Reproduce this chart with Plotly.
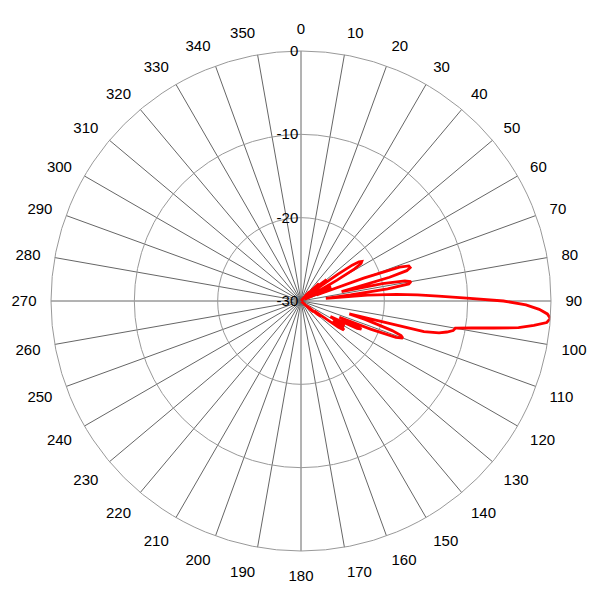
import plotly.graph_objects as go

# Pattern angles (degrees, clockwise from top) and gain values (dB)
angles = [40, 41, 42, 43, 44, 45, 46, 47, 48, 49,
          50, 51, 52, 53, 54, 55, 56, 57, 58, 59,
          60, 61, 62, 63, 64, 65, 66, 67, 68, 69,
          70, 71, 72, 73, 74, 75, 76, 77, 78, 79,
          80, 81, 82, 83, 84, 85, 86, 87, 88, 89,
          90, 91, 92, 93, 94, 95, 96, 97, 98, 99,
          100, 101, 102, 103, 104, 105, 106, 107, 108, 109,
          110, 111, 112, 113, 114, 115, 116, 117, 118, 119,
          120, 121, 122, 123, 124, 125, 126, 127, 128, 129,
          130, 131, 132, 133, 134, 135]
gain_db = [-30, -29, -28.5, -29, -30, -28, -27, -27.5, -29, -27,
           -26, -26.5, -29, -27, -24.5, -22.5, -21.6, -21.3, -21.5, -22.5,
           -25, -29, -27, -26, -27, -29.5, -28, -26, -27.5, -28,
           -22, -17.5, -16.4, -16.3, -16.8, -19, -23, -25, -20, -17.3,
           -16.6, -16.9, -19.5, -24, -27, -22, -18.5, -16, -13.5, -10.1,
           -5.7, -3.0, -1.4, -0.4, 0, -0.4, -1.9, -3.7, -6.7, -9.3,
           -11.2, -11.4, -12.1, -13.0, -14.8, -24, -22, -20.5, -18.5, -17.3,
           -17.0, -17.8, -21, -25, -23, -22, -22.5, -25, -26, -24.5,
           -24, -24.3, -25.5, -24, -23.8, -24.5, -27, -28, -27, -27.5,
           -29, -28, -28.5, -30, -30, -30]

angle_ticks = list(range(0, 360, 10))
angle_labels = [str(a) for a in angle_ticks]
radial_ticks = [-30, -20, -10, 0]
radial_labels = ["-30", "-20", "-10", "0"]

fig = go.Figure()
fig.add_trace(go.Scatterpolar(
    r=gain_db, theta=angles, mode="lines",
    line=dict(color="#ff0000", width=2.8),
    showlegend=False, hoverinfo="skip"))

fig.update_layout(
    width=600, height=600,
    margin=dict(l=43, r=57, t=43, b=57, autoexpand=False),
    paper_bgcolor="white",
    font=dict(family="Liberation Sans, Arial, sans-serif", size=15, color="black"),
    polar=dict(
        bgcolor="white",
        domain=dict(x=[0, 1], y=[0, 1]),
        angularaxis=dict(
            direction="clockwise", rotation=90,
            tickmode="array", tickvals=angle_ticks, ticktext=angle_labels,
            showline=True, linecolor="#999999", linewidth=1,
            showgrid=True, gridcolor="#666666", gridwidth=0.8,
            ticks="outside", ticklen=11, tickcolor="rgba(0,0,0,0)",
            tickfont=dict(size=15, color="black")),
        radialaxis=dict(
            range=[-30, 0], angle=90, tickangle=90, side="counterclockwise",
            tickmode="array", tickvals=radial_ticks, ticktext=radial_labels,
            showline=False, ticks="",
            showgrid=True, gridcolor="#999999", gridwidth=1,
            tickfont=dict(size=15, color="black"))))

fig.write_html("out.html")
